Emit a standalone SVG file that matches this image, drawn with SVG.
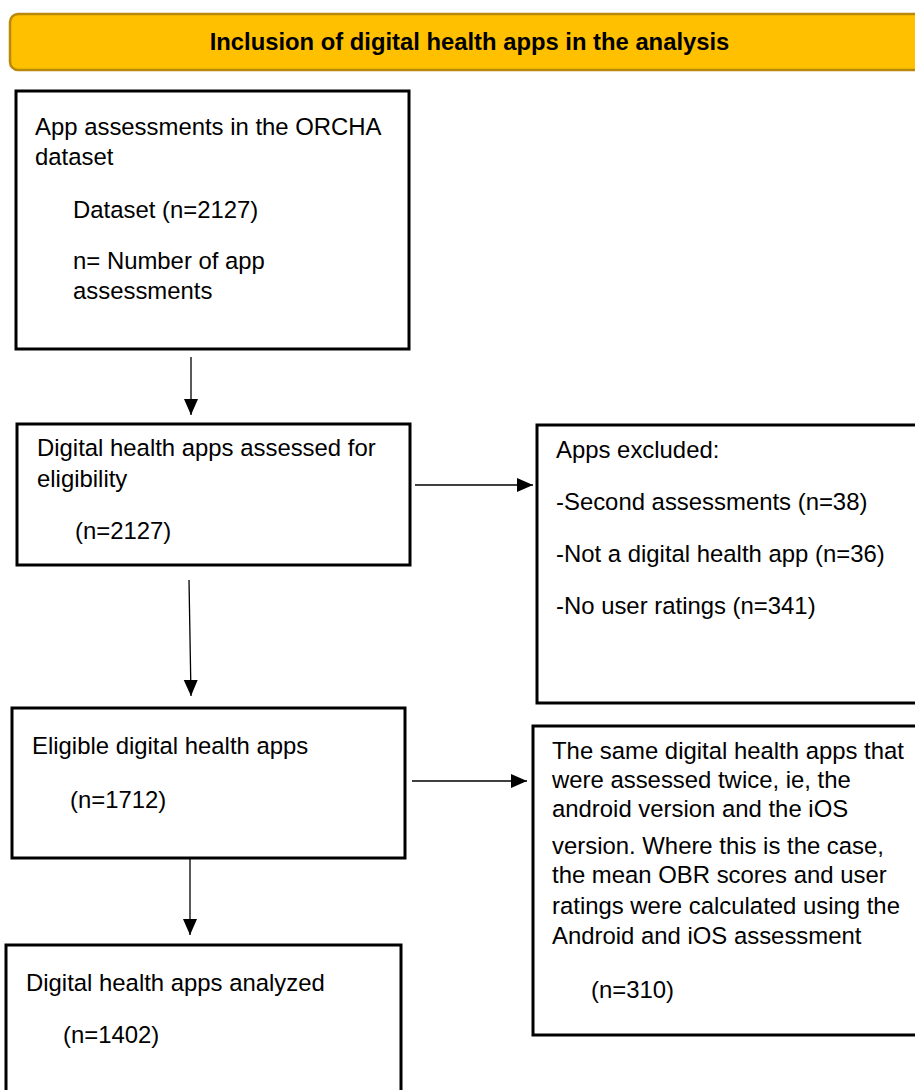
<svg xmlns="http://www.w3.org/2000/svg" width="915" height="1090" viewBox="0 0 915 1090">
<defs>
<style>
.box{fill:#fff;stroke:#000;stroke-width:3}
.t{font-family:"Liberation Sans",Arial,sans-serif;font-size:23.9px;fill:#000}
.title{font-family:"Liberation Sans",Arial,sans-serif;font-size:23.8px;font-weight:bold;fill:#000}
.c{stroke:#000;stroke-width:1.3;fill:none}
</style>
<marker id="ahv" viewBox="0 0 16 16" refX="16" refY="8" markerWidth="16" markerHeight="16" markerUnits="userSpaceOnUse" orient="auto">
<path d="M0,1 L16,8 L0,15 z" fill="#000"/>
</marker>
</defs>
<rect width="915" height="1090" fill="#fff"/>
<g id="header">
<rect x="10" y="14" width="920" height="56" rx="8" fill="#FFC000" stroke="#B8890A" stroke-width="2.5"/>
<text class="title" x="469.5" y="50" text-anchor="middle">Inclusion of digital health apps in the analysis</text>
</g>
<g id="node-dataset">
<rect class="box" x="16" y="91" width="393" height="258"/>
<text class="t" x="35" y="135">App assessments in the ORCHA</text>
<text class="t" x="35" y="165">dataset</text>
<text class="t" x="73" y="218">Dataset (n=2127)</text>
<text class="t" x="73" y="269">n= Number of app</text>
<text class="t" x="73" y="299">assessments</text>
</g>
<g id="node-assessed">
<rect class="box" x="17" y="424" width="393" height="141"/>
<text class="t" x="37" y="456">Digital health apps assessed for</text>
<text class="t" x="37" y="487">eligibility</text>
<text class="t" x="75" y="539">(n=2127)</text>
</g>
<g id="node-excluded">
<rect class="box" x="537" y="425" width="390" height="278"/>
<text class="t" x="556" y="458">Apps excluded:</text>
<text class="t" x="556" y="510">-Second assessments (n=38)</text>
<text class="t" x="556" y="562">-Not a digital health app (n=36)</text>
<text class="t" x="556" y="614">-No user ratings (n=341)</text>
</g>
<g id="node-eligible">
<rect class="box" x="12" y="708" width="393" height="150"/>
<text class="t" x="32" y="754">Eligible digital health apps</text>
<text class="t" x="70" y="808">(n=1712)</text>
</g>
<g id="node-twice">
<rect class="box" x="533" y="726" width="395" height="309"/>
<text class="t" x="552" y="759">The same digital health apps that</text>
<text class="t" x="552" y="788">were assessed twice, ie, the</text>
<text class="t" x="552" y="817">android version and the iOS</text>
<text class="t" x="552" y="854">version. Where this is the case,</text>
<text class="t" x="552" y="883">the mean OBR scores and user</text>
<text class="t" x="552" y="914">ratings were calculated using the</text>
<text class="t" x="552" y="944">Android and iOS assessment</text>
<text class="t" x="591" y="998">(n=310)</text>
</g>
<g id="node-analyzed">
<rect class="box" x="6" y="945" width="395" height="160"/>
<text class="t" x="26" y="991">Digital health apps analyzed</text>
<text class="t" x="63" y="1043">(n=1402)</text>
</g>
<g id="connectors">
<line class="c" x1="191" y1="357" x2="191" y2="415" marker-end="url(#ahv)"/>
<line class="c" x1="415" y1="485" x2="533" y2="485" marker-end="url(#ahv)"/>
<line class="c" x1="189" y1="580" x2="191" y2="696" marker-end="url(#ahv)"/>
<line class="c" x1="412" y1="781" x2="527" y2="781" marker-end="url(#ahv)"/>
<line class="c" x1="190" y1="859" x2="190" y2="935" marker-end="url(#ahv)"/>
</g>
</svg>
